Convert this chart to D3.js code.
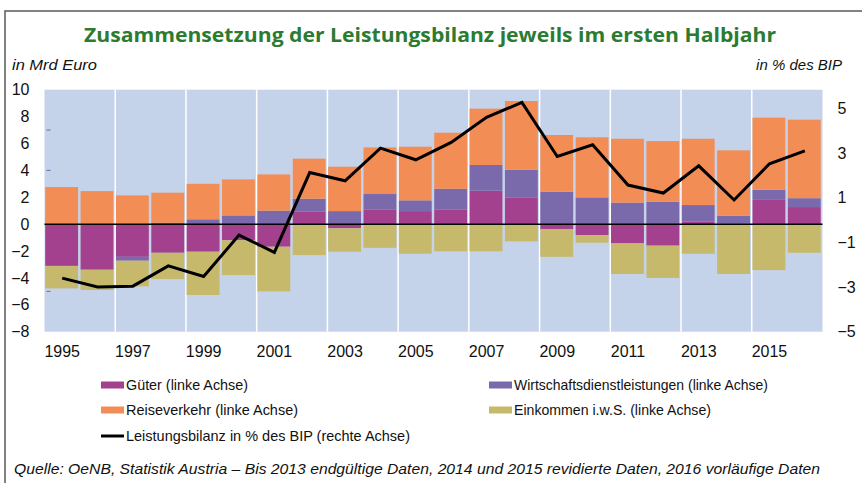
<!DOCTYPE html>
<html>
<head>
<meta charset="utf-8">
<script src="https://cdn.jsdelivr.net/npm/d3@7"></script>
<style>
  html, body { margin: 0; padding: 0; background: #fff; }
  svg { display: block; }
</style>
</head>
<body>
<svg id="chart" width="862" height="483"></svg>
<script>
// ---------- data ----------
const years = [1995,1996,1997,1998,1999,2000,2001,2002,2003,2004,2005,2006,2007,2008,2009,2010,2011,2012,2013,2014,2015,2016];
const gueter      = [-3.04,-3.39,-2.43,-2.13,-2.05,-1.20,-1.68, 0.92,-0.31, 1.07, 0.97, 1.07, 2.49, 1.96,-0.36,-0.81,-1.43,-1.60, 0.20, 0.05, 1.85, 1.27];
const wirtschaft  = [-0.08, 0.00,-0.29, 0.10, 0.36, 0.65, 1.00, 0.97, 0.97, 1.17, 0.80, 1.56, 1.91, 2.09, 2.41, 1.99, 1.60, 1.67, 1.22, 0.57, 0.71, 0.66];
const reise       = [ 2.76, 2.46, 2.14, 2.24, 2.64, 2.68, 2.70, 2.98, 3.30, 3.47, 3.99, 4.17, 4.19, 5.11, 4.22, 4.47, 4.75, 4.51, 4.93, 4.87, 5.36, 5.84];
const einkommen   = [-1.66,-1.51,-1.91,-1.96,-3.22,-2.59,-3.32,-2.30,-1.74,-1.76,-2.20,-2.02,-2.02,-1.28,-2.07,-0.57,-2.28,-2.40,-2.20,-3.71,-3.42,-2.13];
const bilanzPct   = [-2.60,-3.00,-2.96,-2.05,-2.53,-0.67,-1.45, 2.13, 1.76, 3.22, 2.70, 3.48, 4.60, 5.27, 2.85, 3.37, 1.57, 1.21, 2.43, 0.90, 2.52, 3.10];

const leftTicks  = [-8,-6,-4,-2,0,2,4,6,8,10];
const rightTicks = [-5,-3,-1,1,3,5];
const yearTicks  = [1995,1997,1999,2001,2003,2005,2007,2009,2011,2013,2015];

const seriesKeys  = ["gueter","wirtschaft","reise","einkommen"];
const seriesNames = ["Güter (linke Achse)","Wirtschaftsdienstleistungen (linke Achse)","Reiseverkehr (linke Achse)","Einkommen i.w.S. (linke Achse)"];
const seriesColors = ["#a3418e","#7a69ab","#f28e55","#c6b96c"];
const lineName = "Leistungsbilanz in % des BIP (rechte Achse)";

const titleText = "Zusammensetzung der Leistungsbilanz jeweils im ersten Halbjahr";
const leftUnit = "in Mrd Euro";
const rightUnit = "in % des BIP";
const sourceText = "Quelle: OeNB, Statistik Austria – Bis 2013 endgültige Daten, 2014 und 2015 revidierte Daten, 2016 vorläufige Daten";

// ---------- layout ----------
const svg = d3.select("#chart");
const W = 862, H = 483;
const plot = { left: 44.5, right: 822.5, top: 89.7, bottom: 331.7 };

svg.append("rect").attr("width", W).attr("height", H).attr("fill", "#fff");

// frame
svg.append("path")
  .attr("d", `M5,${H} V11 H${W}`)
  .attr("fill", "none").attr("stroke", "#5a5a5a").attr("stroke-width", 1.5);

// title
svg.append("text")
  .attr("x", 430).attr("y", 42)
  .attr("text-anchor", "middle")
  .attr("font-family", "'Open Sans', 'DejaVu Sans', sans-serif")
  .attr("font-weight", "bold")
  .attr("font-size", 20)
  .attr("fill", "#2b7b30")
  .attr("textLength", 692).attr("lengthAdjust", "spacingAndGlyphs")
  .text(titleText);

// units
svg.append("text").attr("x", 12).attr("y", 70)
  .attr("font-family", "'Liberation Sans', Arial, sans-serif").attr("font-style", "italic")
  .attr("font-size", 15).attr("fill", "#111")
  .attr("textLength", 85).attr("lengthAdjust", "spacingAndGlyphs")
  .text(leftUnit);
svg.append("text").attr("x", 842).attr("y", 70).attr("text-anchor", "end")
  .attr("font-family", "'Liberation Sans', Arial, sans-serif").attr("font-style", "italic")
  .attr("font-size", 15).attr("fill", "#111")
  .text(rightUnit);

// scales
const x = d3.scaleBand().domain(years).range([plot.left, plot.right]).padding(0);
const yL = d3.scaleLinear().domain([-8, 10]).range([plot.bottom, plot.top]);
const yR = d3.scaleLinear().domain([-5, 5.84]).range([plot.bottom, plot.top]);

// plot background
svg.append("rect")
  .attr("x", plot.left).attr("y", plot.top)
  .attr("width", plot.right - plot.left).attr("height", plot.bottom - plot.top)
  .attr("fill", "#c5d3ea");

// vertical white gridlines every 2 years
const gridYears = years.filter((d, i) => i > 0 && i % 2 === 0);
svg.append("g").selectAll("line").data(gridYears).join("line")
  .attr("x1", d => x(d)).attr("x2", d => x(d))
  .attr("y1", plot.top).attr("y2", plot.bottom)
  .attr("stroke", "#ffffff").attr("stroke-width", 1.5);

// small blue dashes (marks in reference)
const dashVals = [7,4,1,-2,-5];
svg.append("g").selectAll("line").data(dashVals).join("line")
  .attr("x1", plot.left + 2).attr("x2", plot.left + 6)
  .attr("y1", d => yL(d)).attr("y2", d => yL(d))
  .attr("stroke", "#5a6fb0").attr("stroke-width", 1);

// stacked bars
const table = years.map((yr, i) => ({
  year: yr, gueter: gueter[i], wirtschaft: wirtschaft[i], reise: reise[i], einkommen: einkommen[i]
}));
const stack = d3.stack().keys(seriesKeys).offset(d3.stackOffsetDiverging);
const stacked = stack(table);

const bw = x.bandwidth();
svg.append("g").selectAll("g").data(stacked).join("g")
  .attr("fill", (d, i) => seriesColors[i])
  .selectAll("rect").data(d => d).join("rect")
    .attr("x", d => x(d.data.year) + bw * 0.02)
    .attr("width", bw * 0.93)
    .attr("y", d => yL(Math.max(d[0], d[1])))
    .attr("height", d => Math.abs(yL(d[0]) - yL(d[1])));

// zero line
svg.append("line")
  .attr("x1", plot.left).attr("x2", plot.right)
  .attr("y1", yL(0)).attr("y2", yL(0))
  .attr("stroke", "#000").attr("stroke-width", 1.5);

// line series (right axis)
const line = d3.line()
  .x((d, i) => x(years[i]) + bw / 2)
  .y(d => yR(d));
svg.append("path").datum(bilanzPct)
  .attr("d", line)
  .attr("fill", "none").attr("stroke", "#000").attr("stroke-width", 3)
  .attr("stroke-linejoin", "miter");

// left axis labels
const axisFont = "'Liberation Sans', Arial, sans-serif";
const gL = svg.append("g").attr("transform", `translate(${plot.left},0)`)
  .call(d3.axisLeft(yL).tickValues(leftTicks).tickSize(0).tickPadding(15).tickFormat(d3.format("d")));
gL.select(".domain").remove();
gL.selectAll("text").attr("font-family", axisFont).attr("font-size", 16).attr("fill", "#111");

// right axis labels
const gR = svg.append("g").attr("transform", `translate(${plot.right},0)`)
  .call(d3.axisRight(yR).tickValues(rightTicks).tickSize(0).tickPadding(15).tickFormat(d3.format("d")));
gR.select(".domain").remove();
gR.selectAll("text").attr("font-family", axisFont).attr("font-size", 16).attr("fill", "#111");

// x axis labels
const gX = svg.append("g").attr("transform", `translate(0,${plot.bottom})`)
  .call(d3.axisBottom(x).tickValues(yearTicks).tickSize(0).tickPadding(14));
gX.select(".domain").remove();
gX.selectAll("text").attr("font-family", axisFont).attr("font-size", 16).attr("fill", "#111");

// legend
const legendFont = "'Liberation Sans Narrow', 'Liberation Sans', Arial, sans-serif";
const legendItems = [
  { name: seriesNames[0], color: seriesColors[0], x: 101, y: 385, w: 122 },
  { name: seriesNames[1], color: seriesColors[1], x: 489, y: 385, w: 254 },
  { name: seriesNames[2], color: seriesColors[2], x: 101, y: 410, w: 172 },
  { name: seriesNames[3], color: seriesColors[3], x: 489, y: 410, w: 197 }
];
const lg = svg.append("g");
legendItems.forEach(it => {
  lg.append("rect").attr("x", it.x).attr("y", it.y - 3.5).attr("width", 23).attr("height", 7).attr("fill", it.color);
  lg.append("text").attr("x", it.x + 25).attr("y", it.y + 5)
    .attr("font-family", legendFont).attr("font-size", 14.5).attr("fill", "#111")
    .attr("textLength", it.w).attr("lengthAdjust", "spacingAndGlyphs")
    .text(it.name);
});
lg.append("line").attr("x1", 101).attr("x2", 124).attr("y1", 436).attr("y2", 436)
  .attr("stroke", "#000").attr("stroke-width", 3);
lg.append("text").attr("x", 126).attr("y", 441)
  .attr("font-family", legendFont).attr("font-size", 14.5).attr("fill", "#111")
  .attr("textLength", 284).attr("lengthAdjust", "spacingAndGlyphs")
  .text(lineName);

// source
svg.append("text").attr("x", 14).attr("y", 474)
  .attr("font-family", legendFont).attr("font-style", "italic")
  .attr("font-size", 15).attr("fill", "#111")
  .attr("textLength", 806).attr("lengthAdjust", "spacingAndGlyphs")
  .text(sourceText);
</script>
</body>
</html>
